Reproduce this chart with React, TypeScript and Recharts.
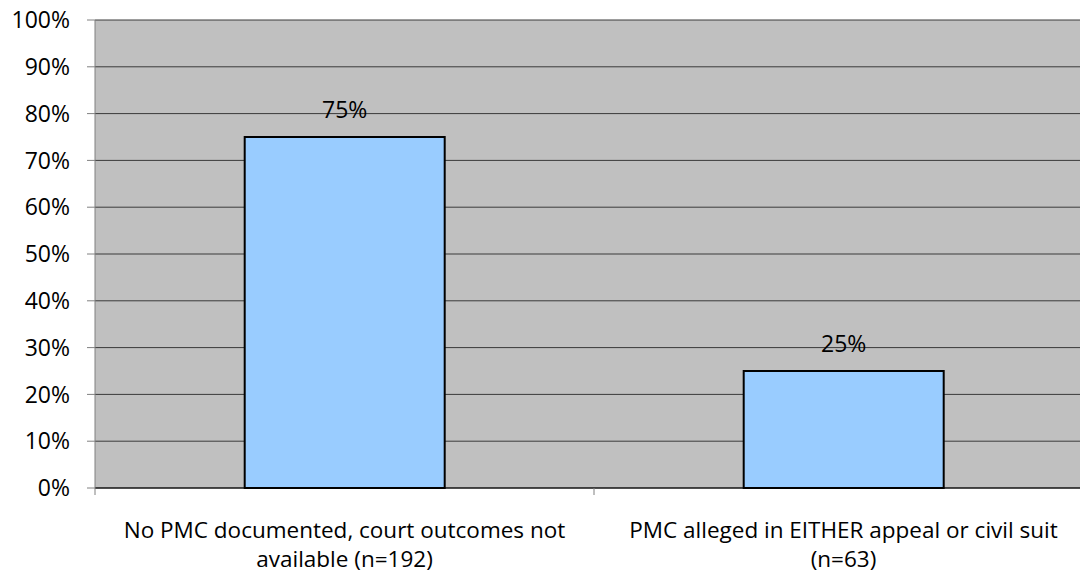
import React from 'react'
import { BarChart, Bar, XAxis, YAxis, CartesianGrid, LabelList } from 'recharts'

const categorias = ['no-pmc', 'pmc-alleged']
const linhasRotulo = [
  ['No PMC documented, court outcomes not', 'available (n=192)'],
  ['PMC alleged in EITHER appeal or civil suit', '(n=63)'],
]
const percentuais = [75, 25]
const ticksY = [0, 10, 20, 30, 40, 50, 60, 70, 80, 90, 100]

const dados = categorias.map((c, i) => ({ cat: c, valor: percentuais[i], idx: i }))

const FONTE = '"Open Sans", sans-serif'

function TickCategoria(props: any) {
  const { x, y, payload, index } = props
  const meia = payload.offset || 0
  const linhas = linhasRotulo[index] || []
  const ultimo = index === categorias.length - 1
  return (
    <g>
      <line x1={x - meia} x2={x - meia} y1={y} y2={y + 7} stroke="#808080" />
      {ultimo && <line x1={x + meia} x2={x + meia} y1={y} y2={y + 7} stroke="#808080" />}
      {linhas.map((l, i) => (
        <text
          key={i}
          x={x}
          y={y + 50 + i * 29}
          textAnchor="middle"
          fontFamily={FONTE}
          fontSize={22.5}
          fill="#000"
        >
          {l}
        </text>
      ))}
    </g>
  )
}

export default function App() {
  return (
    <div
      style={{
        position: 'absolute',
        left: 0,
        top: 0,
        width: 1080,
        height: 575,
        overflow: 'hidden',
        background: '#fff',
      }}
    >
      <BarChart
        width={1100}
        height={575}
        data={dados}
        margin={{ top: 20, right: 7, bottom: 0, left: 0 }}
        barCategoryGap="30%"
      >
        <CartesianGrid vertical={false} fill="#C0C0C0" stroke="#3a3a3a" strokeOpacity={1} />
        <XAxis
          dataKey="cat"
          height={87}
          axisLine={{ stroke: '#000', strokeWidth: 1 }}
          tickLine={false}
          tickSize={0}
          tickMargin={0}
          interval={0}
          tick={<TickCategoria />}
        />
        <YAxis
          width={95}
          domain={[0, 100]}
          ticks={ticksY}
          interval={0}
          tickFormatter={(v) => `${v}%`}
          axisLine={{ stroke: '#808080' }}
          tickLine={{ stroke: '#808080' }}
          tickSize={8}
          tickMargin={17}
          tick={{ fontFamily: FONTE, fontSize: 23, fill: '#000' }}
        />
        <Bar dataKey="valor" fill="#99CCFF" stroke="#000" strokeWidth={2} isAnimationActive={false}>
          <LabelList
            dataKey="valor"
            position="top"
            offset={19}
            formatter={(v: any) => `${v}%`}
            style={{ fontFamily: FONTE, fontSize: 23, fill: '#000' }}
          />
        </Bar>
      </BarChart>
    </div>
  )
}
